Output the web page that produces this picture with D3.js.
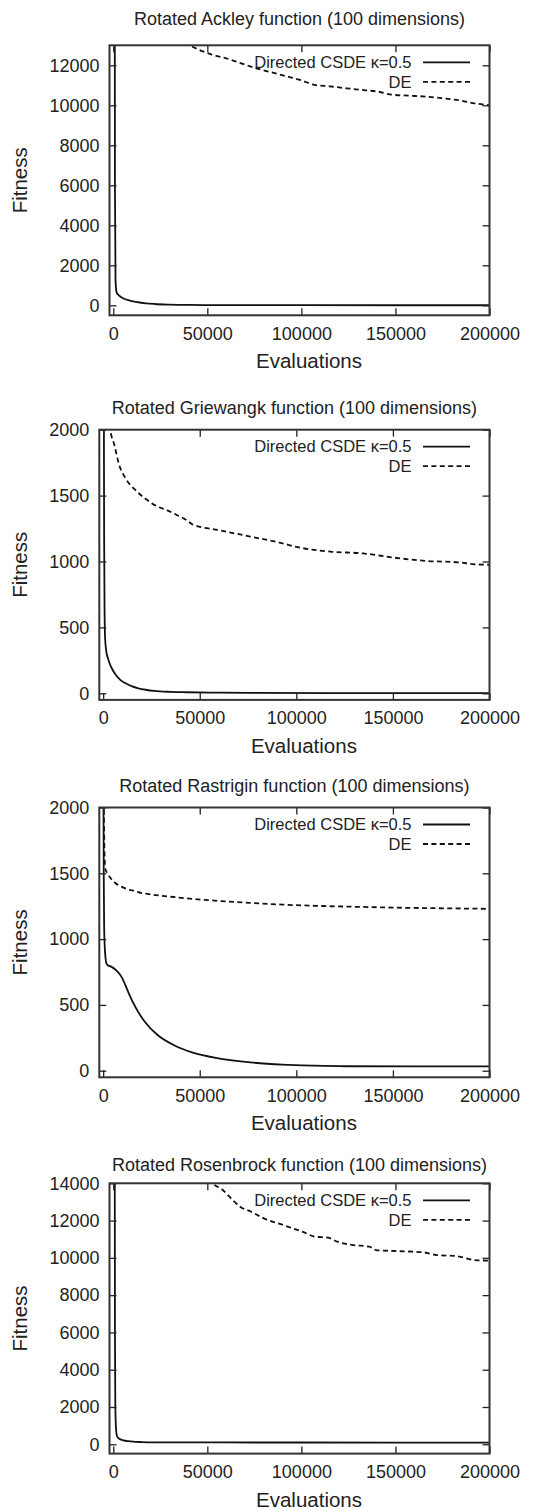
<!DOCTYPE html>
<html>
<head>
<meta charset="utf-8">
<script src="https://cdn.jsdelivr.net/npm/d3@7"></script>
<style>
body { margin: 0; background: #fff; }
text { font-family: "Liberation Sans", Arial, sans-serif; fill: #222; }
</style>
</head>
<body>
<script>
const w = 545, h = 1511;

// ---- data ----
const titles = [
    "Rotated Ackley function (100 dimensions)",
    "Rotated Griewangk function (100 dimensions)",
    "Rotated Rastrigin function (100 dimensions)",
    "Rotated Rosenbrock function (100 dimensions)"
];
const seriesNames = ["Directed CSDE \u03ba=0.5", "DE"];
const xLabel = "Evaluations";
const yLabel = "Fitness";
const xTicks = [0, 50000, 100000, 150000, 200000];
const xDomain = [-2000, 200000];

const ackleyTicks = [0, 2000, 4000, 6000, 8000, 10000, 12000];
const griewangkTicks = [0, 500, 1000, 1500, 2000];
const rastriginTicks = [0, 500, 1000, 1500, 2000];
const rosenbrockTicks = [0, 2000, 4000, 6000, 8000, 10000, 12000, 14000];

const ackleyDomain = [-500, 13000];
const griewangkDomain = [-50, 2000];
const rastriginDomain = [-50, 2000];
const rosenbrockDomain = [-500, 14000];

// [evaluations, fitness]
const ackleyCSDE = [[700, 22000], [900, 6000], [1200, 1300], [1500, 800], [1900, 620], [2600, 530],
    [3700, 440], [5500, 340], [8800, 235], [12000, 175], [17300, 100], [22000, 65], [30000, 35],
    [40000, 18], [60000, 8], [100000, 4], [200000, 3]];
const ackleyDE = [[38000, 13150], [45000, 12800], [52000, 12550], [60000, 12350], [68000, 12100],
    [76000, 11850], [84000, 11650], [92000, 11450], [100000, 11250], [107000, 11020], [115000, 10950],
    [124000, 10850], [133000, 10760], [141000, 10680], [148000, 10530], [158000, 10480],
    [168000, 10420], [176000, 10340], [184000, 10250], [192000, 10100], [200000, 10000]];

const griewangkCSDE = [[300, 2600], [500, 1200], [750, 600], [1000, 420], [1600, 320], [2500, 265],
    [3300, 228], [5000, 175], [6600, 139], [9000, 100], [11600, 76], [15000, 52], [18200, 38],
    [22000, 27], [26500, 18], [35000, 11], [43000, 8], [60000, 5], [76000, 3], [120000, 2], [200000, 1]];
const griewangkDE = [[3000, 2100], [3650, 2005], [5800, 1884], [8300, 1732], [11600, 1631],
    [16600, 1543], [21500, 1480], [28200, 1416], [33000, 1390], [38100, 1353], [43100, 1315],
    [46400, 1280], [59700, 1239], [76200, 1189], [92800, 1138], [99400, 1113], [117600, 1075],
    [134300, 1062], [150800, 1029], [167400, 1004], [183900, 994], [192200, 979], [200000, 975]];

const rastriginCSDE = [[100, 2300], [300, 1500], [500, 1100], [800, 950], [1200, 860], [1660, 816],
    [2500, 800], [4140, 791], [6630, 765], [8500, 735], [9940, 702], [11500, 650], [13260, 588],
    [16570, 487], [21540, 372], [28170, 271], [36460, 195], [46400, 137], [59660, 94], [76240, 63],
    [92800, 46], [109400, 38], [125900, 34], [160000, 33], [200000, 33]];
const rastriginDE = [[300, 2050], [500, 1800], [800, 1600], [1200, 1530], [2000, 1505], [3500, 1470],
    [6000, 1430], [10000, 1395], [15000, 1370], [20000, 1350], [27000, 1335], [35000, 1322],
    [43000, 1310], [60000, 1290], [76000, 1275], [93000, 1262], [110000, 1253], [126000, 1247],
    [142000, 1242], [160000, 1237], [176000, 1234], [200000, 1230]];

const rosenbrockCSDE = [[700, 22000], [900, 6000], [1100, 2000], [1500, 800], [2000, 430], [3000, 310],
    [5400, 210], [8000, 165], [10500, 140], [15000, 120], [22000, 105], [35000, 100], [60000, 97],
    [100000, 95], [200000, 93]];
const rosenbrockDE = [[51500, 14300], [53000, 14000], [57500, 13700], [63500, 13100], [67400, 12743],
    [73300, 12475], [80100, 12118], [90300, 11760], [95400, 11582], [100500, 11403], [107300, 11135],
    [114100, 11082], [119200, 10867], [127700, 10688], [136200, 10599], [139600, 10420],
    [149700, 10367], [165000, 10295], [171800, 10152], [182000, 10099], [192200, 9884], [200000, 9850]];

// ---- layout (box per panel) ----
const panels = [
    { title: titles[0], yTicks: ackleyTicks, yDomain: ackleyDomain, csde: ackleyCSDE, de: ackleyDE,
      left: 109.5, right: 489.5, top: 45.3, bottom: 315.3, titleY: 25 },
    { title: titles[1], yTicks: griewangkTicks, yDomain: griewangkDomain, csde: griewangkCSDE, de: griewangkDE,
      left: 99.3, right: 489.5, top: 429.7, bottom: 699.9, titleY: 413.5 },
    { title: titles[2], yTicks: rastriginTicks, yDomain: rastriginDomain, csde: rastriginCSDE, de: rastriginDE,
      left: 99.3, right: 489.5, top: 807.5, bottom: 1077.3, titleY: 791.7 },
    { title: titles[3], yTicks: rosenbrockTicks, yDomain: rosenbrockDomain, csde: rosenbrockCSDE, de: rosenbrockDE,
      left: 109.5, right: 489.5, top: 1183.3, bottom: 1453.6, titleY: 1170.7 }
];

const svg = d3.select("body")
    .append("svg")
    .attr("width", w)
    .attr("height", h);

const ink = "#222";
const tickLen = 7;

panels.forEach((p, i) => drawPanel(p, i));

function drawPanel(p, i) {
    let xScale = d3.scaleLinear().domain(xDomain).range([p.left, p.right]);
    let yScale = d3.scaleLinear().domain(p.yDomain).range([p.bottom, p.top]);

    let g = svg.append("g").attr("class", "panel");

    g.append("clipPath")
        .attr("id", "clip" + i)
        .append("rect")
        .attr("x", p.left).attr("y", p.top)
        .attr("width", p.right - p.left).attr("height", p.bottom - p.top);

    let line = d3.line()
        .x(d => xScale(d[0]))
        .y(d => yScale(d[1]))
        .curve(d3.curveMonotoneX);

    //curves
    g.append("path")
        .datum(p.de)
        .attr("clip-path", "url(#clip" + i + ")")
        .attr("d", line)
        .attr("fill", "none")
        .attr("stroke", "#111")
        .attr("stroke-width", 1.8)
        .attr("stroke-dasharray", "5,3.4");
    g.append("path")
        .datum(p.csde)
        .attr("clip-path", "url(#clip" + i + ")")
        .attr("d", line)
        .attr("fill", "none")
        .attr("stroke", "#111")
        .attr("stroke-width", 1.8);

    //axes: ticks inward, mirrored on all four sides
    let fmt = d3.format("d");
    let bottomAx = d3.axisBottom(xScale).tickValues(xTicks).tickFormat(fmt).tickSizeInner(-tickLen).tickSizeOuter(0).tickPadding(13);
    let topAx = d3.axisTop(xScale).tickValues(xTicks).tickSizeInner(-tickLen).tickSizeOuter(0).tickFormat("");
    let leftAx = d3.axisLeft(yScale).tickValues(p.yTicks).tickFormat(fmt).tickSizeInner(-tickLen).tickSizeOuter(0).tickPadding(10);
    let rightAx = d3.axisRight(yScale).tickValues(p.yTicks).tickSizeInner(-tickLen).tickSizeOuter(0).tickFormat("");

    let axes = [
        g.append("g").attr("transform", "translate(0," + p.bottom + ")").call(bottomAx),
        g.append("g").attr("transform", "translate(0," + p.top + ")").call(topAx),
        g.append("g").attr("transform", "translate(" + p.left + ",0)").call(leftAx),
        g.append("g").attr("transform", "translate(" + p.right + ",0)").call(rightAx)
    ];
    axes.forEach(a => {
        a.select(".domain").remove();
        a.selectAll("line").attr("stroke", ink).attr("stroke-width", 1.3);
        a.selectAll("text").attr("font-size", 18).attr("fill", ink)
            .attr("font-family", "'Liberation Sans', Arial, sans-serif");
    });
    axes[0].selectAll("text").attr("dy", null).attr("y", 24.5);

    //frame
    g.append("rect")
        .attr("x", p.left).attr("y", p.top)
        .attr("width", p.right - p.left).attr("height", p.bottom - p.top)
        .attr("fill", "none")
        .attr("stroke", "#333")
        .attr("stroke-width", 2);

    //title + labels
    g.append("text")
        .attr("x", (p.left + p.right) / 2)
        .attr("y", p.titleY)
        .attr("text-anchor", "middle")
        .attr("font-size", 18)
        .text(p.title);
    g.append("text")
        .attr("x", (p.left + p.right) / 2 + 9.5)
        .attr("y", p.bottom + 53)
        .attr("text-anchor", "middle")
        .attr("font-size", 20.5)
        .text(xLabel);
    g.append("text")
        .attr("transform", "translate(26.5," + ((p.top + p.bottom) / 2) + ") rotate(-90)")
        .attr("text-anchor", "middle")
        .attr("font-size", 20.5)
        .text(yLabel);

    //legend
    let legend = g.append("g").attr("class", "legend");
    seriesNames.forEach((name, k) => {
        let ly = p.top + 17 + k * 19.5;
        legend.append("text")
            .attr("x", 411.5)
            .attr("y", ly)
            .attr("dy", "0.35em")
            .attr("text-anchor", "end")
            .attr("font-size", 16.5)
            .text(name);
        legend.append("line")
            .attr("x1", 423).attr("x2", 470)
            .attr("y1", ly).attr("y2", ly)
            .attr("stroke", "#111")
            .attr("stroke-width", 1.8)
            .attr("stroke-dasharray", k == 0 ? null : "5,3.4");
    });
}
</script>
</body>
</html>
